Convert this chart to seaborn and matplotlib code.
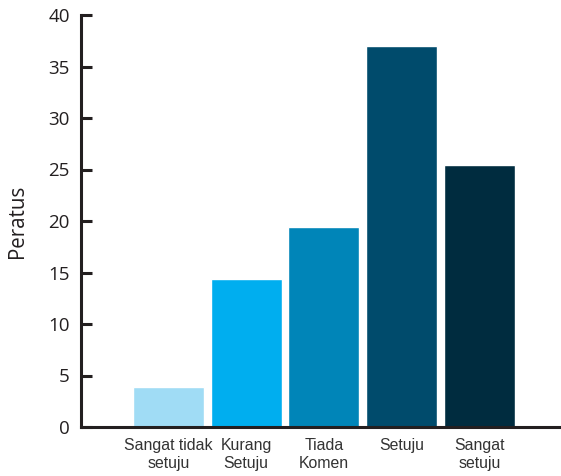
import numpy as np
import pandas as pd
import seaborn as sns
import matplotlib.pyplot as plt

categories = ["Sangat tidak\nsetuju", "Kurang\nSetuju", "Tiada\nKomen", "Setuju", "Sangat\nsetuju"]
values = [3.9, 14.4, 19.4, 37.0, 25.4]
colors = ["#a0dcf5", "#00aeef", "#0085b8", "#004b6c", "#002c3f"]
yticks = [0, 5, 10, 15, 20, 25, 30, 35, 40]

sns.set_style("white")
plt.rcParams['font.family'] = ['Open Sans', 'DejaVu Sans']

df = pd.DataFrame({"kategori": categories, "peratus": values})

dpi = 100
fig = plt.figure(figsize=(561/dpi, 476/dpi), dpi=dpi)
ax = fig.add_axes([81/561, 49/476, 480/561, 412/476])

sns.barplot(data=df, x="kategori", y="peratus", hue="kategori",
            palette=colors, width=0.915, legend=False, saturation=1, ax=ax)

ax.set_xlim(-1.125, 5.05)
ax.set_ylim(0, 40)
ax.set_yticks(yticks)
ax.set_yticklabels([str(t) for t in yticks], fontsize=13.5, color="#231f20")

ax.set_xlabel("")
ax.set_ylabel("Peratus", fontsize=14.8, color="#231f20", labelpad=15)
for lab in ax.get_xticklabels():
    lab.set_family(["Liberation Sans", "DejaVu Sans"])
    lab.set_fontsize(11.4)
    lab.set_color("#333333")
    lab.set_verticalalignment("top")

sns.despine(ax=ax)
for side in ("left", "bottom"):
    ax.spines[side].set_linewidth(2.2)
    ax.spines[side].set_color("#231f20")

ax.tick_params(axis="y", direction="in", length=8, width=2.2, color="#231f20", pad=8, left=True)
ax.tick_params(axis="x", length=0, pad=8)

fig.savefig("out.png", dpi=dpi)
